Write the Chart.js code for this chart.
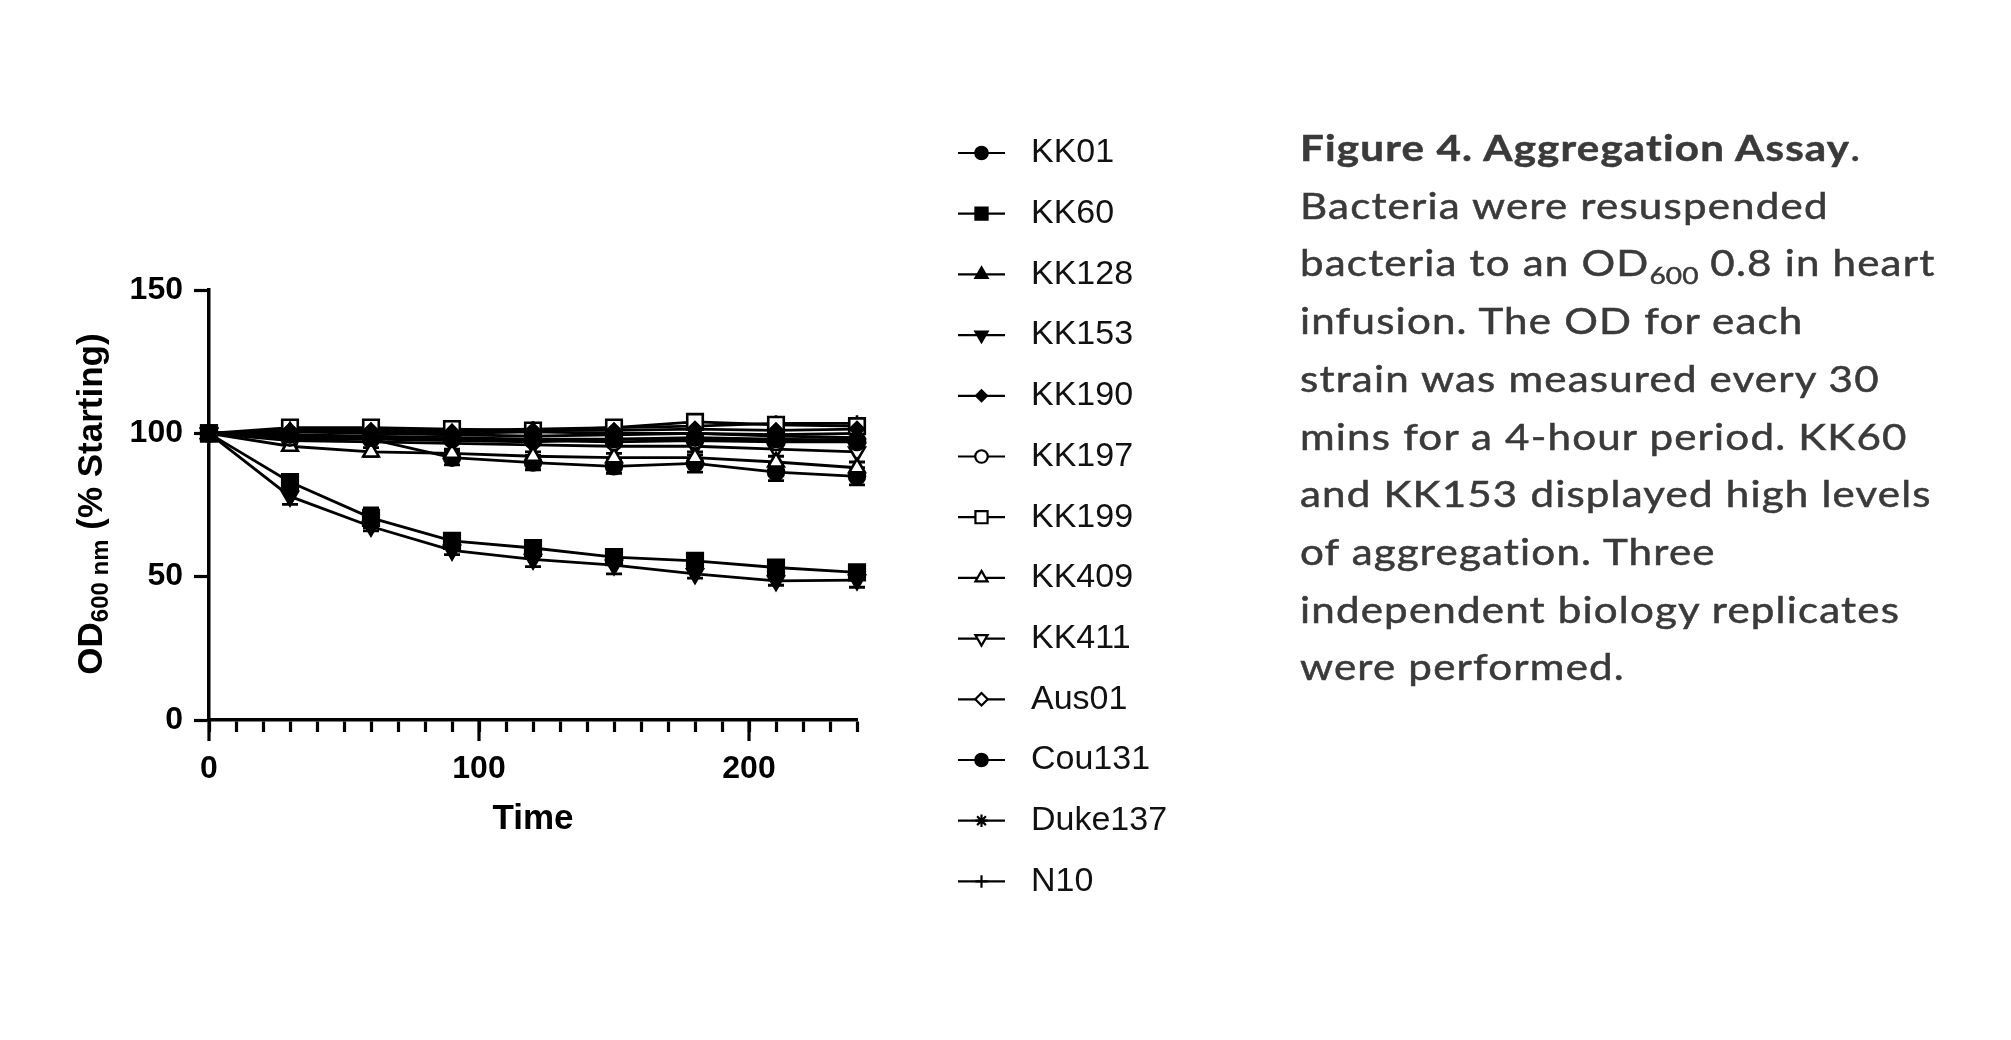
<!DOCTYPE html>
<html>
<head>
<meta charset="utf-8">
<title>Aggregation Assay</title>
<script src="https://cdn.jsdelivr.net/npm/chart.js@4.4.1/dist/chart.umd.min.js"></script>
<style>
  html, body { margin: 0; padding: 0; background: #fff; }
  #wrap { position: relative; width: 2011px; height: 1040px; overflow: hidden; }
  #myChart { position: absolute; left: 0; top: 0; }
  #caption {
    position: absolute; left: 1300px; top: 119px;
    font-family: Lato, "Open Sans", sans-serif; font-size: 36px; line-height: 57.7px;
    color: #3a3a3a; letter-spacing: 1px; white-space: nowrap;
    -webkit-text-stroke: 0.5px #3a3a3a;
    transform: scaleX(1.17); transform-origin: 0 0;
  }
  #caption sub { font-size: 24px; line-height: 0; vertical-align: -8px; letter-spacing: 0; }
</style>
</head>
<body>
<div id="wrap">
  <canvas id="myChart" width="2011" height="1040"></canvas>
  <div id="caption">
    <b>Figure 4. Aggregation Assay</b>.<br>
    Bacteria were resuspended<br>
    bacteria to an OD<sub>600</sub> 0.8 in heart<br>
    infusion. The OD for each<br>
    strain was measured every 30<br>
    mins for a 4-hour period. KK60<br>
    and KK153 displayed high levels<br>
    of aggregation. Three<br>
    independent biology replicates<br>
    were performed.
  </div>
</div>
<script>
  // time points (min)
  const times = [0, 30, 60, 90, 120, 150, 180, 210, 240];

  const strains = ["KK01", "KK60", "KK128", "KK153", "KK190", "KK197", "KK199",
                   "KK409", "KK411", "Aus01", "Cou131", "Duke137", "N10"];

  // OD600 as % of starting value
  const KK01    = [100, 99.5, 99, 98.5, 98, 98, 98.5, 98, 97.5];
  const KK60    = [100, 83, 70.5, 62.5, 60, 56.8, 55.5, 53.2, 51.5];
  const KK128   = [100, 100.5, 100, 99.5, 99, 99.5, 100, 99, 98.5];
  const KK153   = [100, 78, 67.5, 59.2, 56, 54, 51, 48.5, 48.8];
  const KK190   = [100, 101, 101, 100.5, 101, 101, 101.5, 101, 101.5];
  const KK197   = [100, 98.5, 98.5, 98, 97.5, 97, 97.5, 97, 97];
  const KK199   = [100, 102, 102, 101.5, 101, 102, 104, 103, 102.5];
  const KK409   = [100, 95.5, 93.5, 93, 92, 91.5, 91.5, 90, 88];
  const KK411   = [100, 97.5, 97, 96.5, 96, 95.5, 95.5, 94.5, 93.5];
  const Aus01   = [100, 99, 98, 97.5, 97, 98, 98, 97.5, 98];
  const Cou131  = [100, 98, 98, 91.5, 89.8, 88.5, 89.5, 86.5, 85];
  const Duke137 = [100, 100.5, 101, 101, 101.5, 102, 102.5, 103.5, 103.5];
  const N10     = [100, 101, 100.5, 100, 100.5, 100, 100, 99.5, 100];

  // error bars (SD) where visible
  const errKK60   = [0, 2, 3.5, 1.5, 2, 2, 2, 2, 1.5];
  const errKK153  = [0, 2.8, 1.5, 1.5, 2.5, 3, 1.5, 1.5, 2.5];
  const errCou131 = [0, 1, 1, 2.5, 2.5, 2.5, 3, 3, 3];
  const errKK409  = [0, 1, 1.5, 1.5, 1.5, 1.5, 2, 2, 2];
  const errKK199  = [0, 1, 1, 1, 1, 1, 1, 1.5, 1.5];

  const xMajorTicks = [0, 100, 200];

  const seriesValues = [KK01, KK60, KK128, KK153, KK190, KK197, KK199,
                        KK409, KK411, Aus01, Cou131, Duke137, N10];
  const seriesErrors = { KK60: errKK60, KK153: errKK153, Cou131: errCou131,
                         KK409: errKK409, KK199: errKK199 };

  // GraphPad-like symbols
  const markers = [
    { style: "circle",   fill: "#000", r: 8 },
    { style: "rect",     fill: "#000", r: 11 },
    { style: "triangle", fill: "#000", r: 9 },
    { style: "triangle", fill: "#000", r: 9, rot: 180 },
    { style: "rectRot",  fill: "#000", r: 7 },
    { style: "circle",   fill: "#fff", r: 8 },
    { style: "rect",     fill: "#fff", r: 11 },
    { style: "triangle", fill: "#fff", r: 9 },
    { style: "triangle", fill: "#fff", r: 9, rot: 180 },
    { style: "rectRot",  fill: "#fff", r: 8 },
    { style: "circle",   fill: "#000", r: 8 },
    { style: "star",     fill: "#000", r: 8 },
    { style: "cross",    fill: "#000", r: 8 }
  ];

  const FONT = "'Liberation Sans', Arial, Helvetica, sans-serif";

  const datasets = strains.map((name, i) => ({
    label: name,
    data: seriesValues[i].map((v, j) => ({ x: times[j], y: v })),
    borderColor: "#000",
    borderWidth: 2.8,
    pointStyle: markers[i].style,
    pointRotation: markers[i].rot || 0,
    pointRadius: markers[i].r,
    pointBackgroundColor: markers[i].fill,
    pointBorderColor: "#000",
    pointBorderWidth: 2.6,
    tension: 0,
    clip: false
  }));

  const errorBars = {
    id: "errorBars",
    beforeDatasetDraw(chart, args) {
      const ds = chart.data.datasets[args.index];
      const errs = seriesErrors[ds.label];
      if (!errs) return;
      const ctx = chart.ctx, yS = chart.scales.y;
      ctx.save();
      ctx.strokeStyle = "#000";
      ctx.lineWidth = 2.8;
      args.meta.data.forEach((pt, j) => {
        const e = errs[j];
        if (!e) return;
        const v = ds.data[j].y;
        const yHi = yS.getPixelForValue(v + e), yLo = yS.getPixelForValue(v - e);
        ctx.beginPath();
        ctx.moveTo(pt.x, yHi); ctx.lineTo(pt.x, yLo);
        ctx.moveTo(pt.x - 8, yHi); ctx.lineTo(pt.x + 8, yHi);
        ctx.moveTo(pt.x - 8, yLo); ctx.lineTo(pt.x + 8, yLo);
        ctx.stroke();
      });
      ctx.restore();
    }
  };

  const axisExtras = {
    id: "axisExtras",
    afterDraw(chart) {
      const ctx = chart.ctx, xS = chart.scales.x, area = chart.chartArea;
      ctx.save();
      // longer major ticks on x
      ctx.strokeStyle = "#000";
      ctx.lineWidth = 3.2;
      xMajorTicks.forEach(v => {
        const px = xS.getPixelForValue(v);
        ctx.beginPath(); ctx.moveTo(px, area.bottom); ctx.lineTo(px, area.bottom + 21); ctx.stroke();
      });
      // y title with subscript
      ctx.translate(102, 504);
      ctx.rotate(-Math.PI / 2);
      ctx.fillStyle = "#000";
      ctx.textBaseline = "alphabetic";
      const big = "bold 35px " + FONT, small = "bold 24px " + FONT;
      ctx.font = big; const w1 = ctx.measureText("OD").width;
      ctx.font = small; const w2 = ctx.measureText("600 nm").width;
      ctx.font = big; const w3 = ctx.measureText(" (% Starting)").width;
      const x0 = -(w1 + w2 + w3) / 2;
      ctx.textAlign = "left";
      ctx.font = big; ctx.fillText("OD", x0, 0);
      ctx.font = small; ctx.fillText("600 nm", x0 + w1, 6);
      ctx.font = big; ctx.fillText(" (% Starting)", x0 + w1 + w2, 0);
      ctx.restore();
    }
  };

  const sideLegend = {
    id: "sideLegend",
    afterDraw(chart) {
      const ctx = chart.ctx;
      ctx.save();
      chart.data.datasets.forEach((ds, i) => {
        const y = 153 + i * 60.7;
        ctx.strokeStyle = "#000";
        ctx.lineWidth = 2.2;
        ctx.beginPath(); ctx.moveTo(958, y); ctx.lineTo(1005, y); ctx.stroke();
        ctx.fillStyle = ds.pointBackgroundColor;
        Chart.helpers.drawPoint(ctx, {
          pointStyle: ds.pointStyle, rotation: ds.pointRotation,
          radius: ds.pointRadius * 0.78, borderWidth: 2.2
        }, 981.5, y);
        ctx.fillStyle = "#111";
        ctx.font = "34px " + FONT;
        ctx.textAlign = "left";
        ctx.textBaseline = "middle";
        ctx.fillText(ds.label, 1031, y);
      });
      ctx.restore();
    }
  };

  function noPad(scale) {
    scale.paddingTop = 0; scale.paddingBottom = 0;
    scale.paddingLeft = 0; scale.paddingRight = 0;
  }

  const ctx = document.getElementById("myChart").getContext("2d");
  new Chart(ctx, {
    type: "line",
    data: { datasets: datasets },
    plugins: [errorBars, axisExtras, sideLegend],
    options: {
      responsive: false,
      animation: false,
      devicePixelRatio: 1,
      layout: { padding: { left: 100, top: 290, right: 1154, bottom: 200 } },
      plugins: { legend: { display: false }, tooltip: { enabled: false } },
      scales: {
        x: {
          type: "linear", min: 0, max: 240,
          afterFit(s) { s.height = 120; noPad(s); },
          border: { color: "#000", width: 3.5 },
          grid: { drawOnChartArea: false, tickLength: 12, tickWidth: 3.2, tickColor: "#000" },
          ticks: {
            stepSize: 10, autoSkip: false, maxRotation: 0, padding: 18, color: "#000",
            font: { family: FONT, size: 32, weight: "bold" },
            callback: v => (xMajorTicks.includes(v) ? String(v) : "")
          },
          title: {
            display: true, text: "Time", color: "#000",
            font: { family: FONT, size: 35, weight: "bold" },
            padding: { top: 0, bottom: 0 }
          }
        },
        y: {
          min: 0, max: 150,
          afterFit(s) { s.width = 109; noPad(s); },
          border: { color: "#000", width: 3.5 },
          grid: { drawOnChartArea: false, tickLength: 15, tickWidth: 3.2, tickColor: "#000" },
          ticks: {
            stepSize: 50, padding: 11, color: "#000",
            font: { family: FONT, size: 32, weight: "bold" }
          }
        }
      }
    }
  });
</script>
</body>
</html>
